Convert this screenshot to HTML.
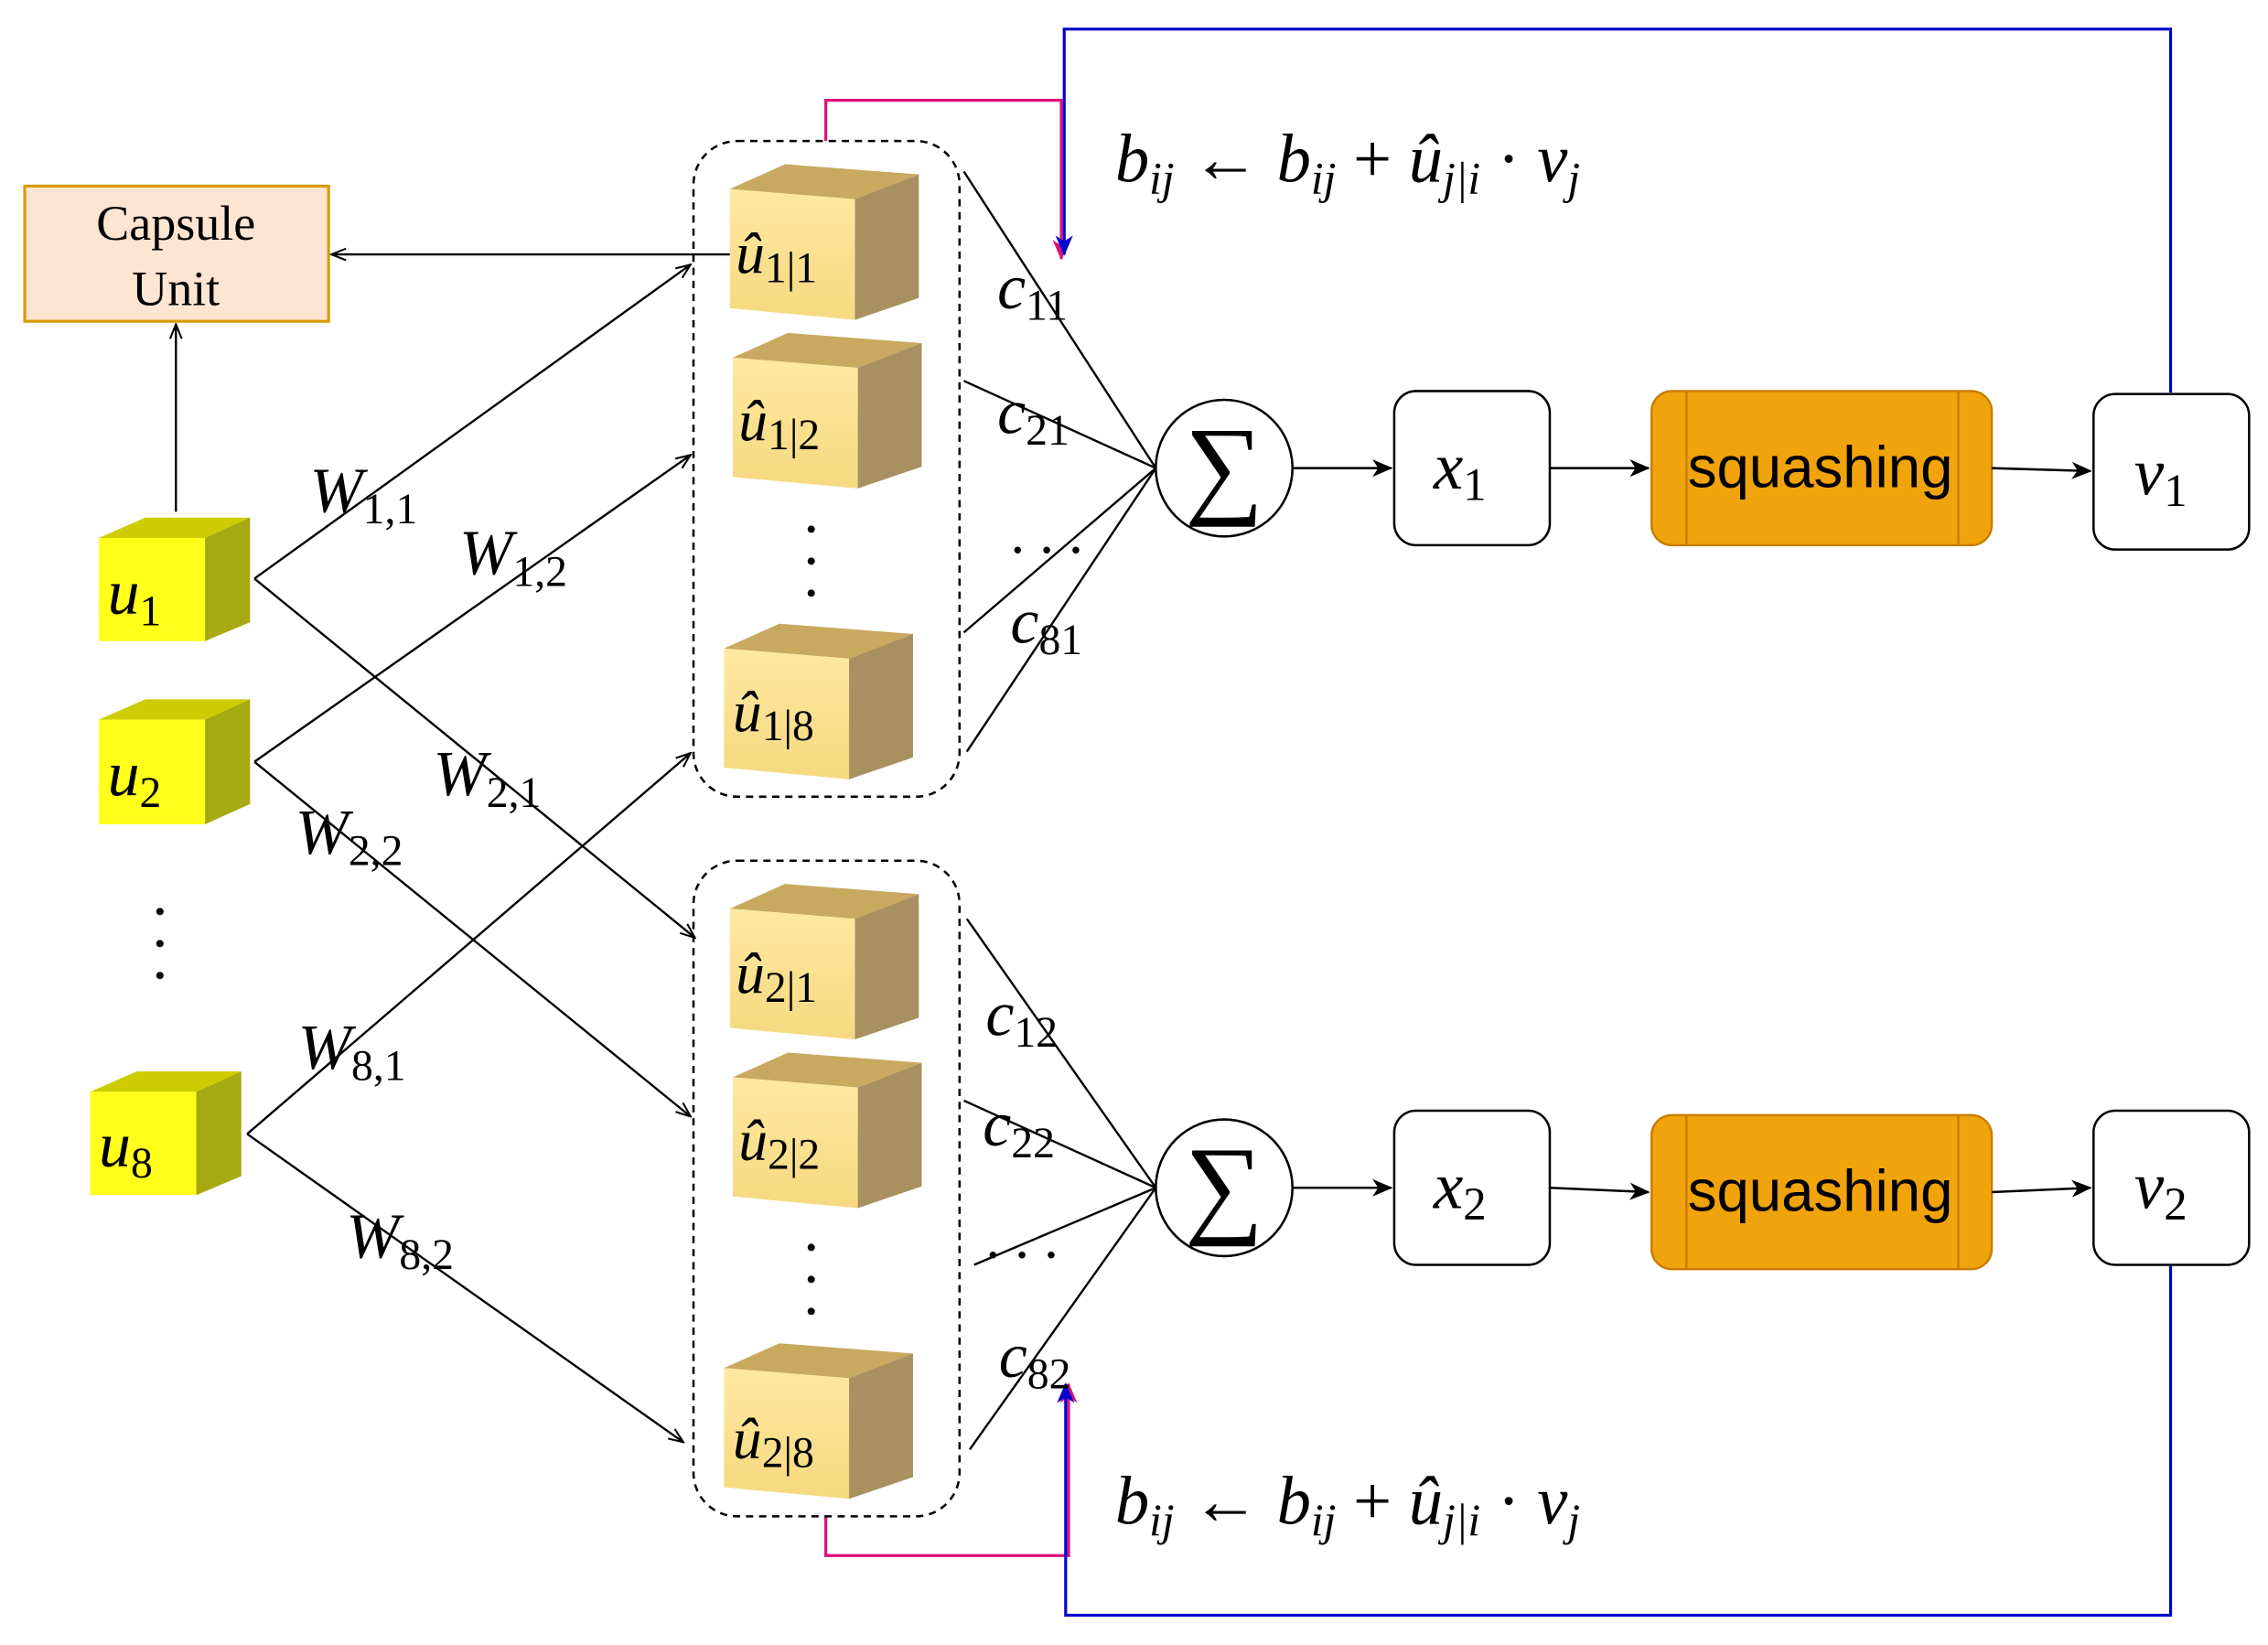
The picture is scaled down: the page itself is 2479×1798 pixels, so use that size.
<!DOCTYPE html>
<html><head><meta charset="utf-8"><style>html,body{margin:0;padding:0;background:#fff}svg{display:block}</style></head><body>
<svg width="2479" height="1798" viewBox="0 0 1560 1131.5" preserveAspectRatio="none" xmlns="http://www.w3.org/2000/svg" font-family="Liberation Serif, serif">
<defs>
<marker id="op" markerWidth="12" markerHeight="10" refX="11" refY="5" orient="auto" markerUnits="userSpaceOnUse"><path d="M1,1 L11,5 L1,9" fill="none" stroke="#000" stroke-width="1.3"/></marker>
<marker id="fa" markerWidth="14" markerHeight="12" refX="13" refY="6" orient="auto" markerUnits="userSpaceOnUse"><path d="M0,0 L14,6 L0,12 L4,6 Z" fill="#000"/></marker>
<marker id="bl" markerWidth="14" markerHeight="14" refX="13" refY="7" orient="auto" markerUnits="userSpaceOnUse"><path d="M0,1 L14,7 L0,13 L4,7 Z" fill="#00c"/></marker>
<marker id="pk" markerWidth="14" markerHeight="14" refX="13" refY="7" orient="auto" markerUnits="userSpaceOnUse"><path d="M0,1 L14,7 L0,13 L4,7 Z" fill="#e0107a"/></marker>
<linearGradient id="bf" x1="0" y1="0" x2="0" y2="1"><stop offset="0" stop-color="#fde9a0"/><stop offset="1" stop-color="#f6d980"/></linearGradient>
</defs>
<polyline points="568,97 568,69 730,69 730,178" fill="none" stroke="#e0107a" stroke-width="2" marker-end="url(#pk)"/>
<polyline points="1493,270 1493,20 732,20 732,175" fill="none" stroke="#00c" stroke-width="2" marker-end="url(#bl)"/>
<polyline points="568,1043 568,1070 735,1070 735,952" fill="none" stroke="#e0107a" stroke-width="2" marker-end="url(#pk)"/>
<polyline points="1493,870 1493,1111 733,1111 733,952" fill="none" stroke="#00c" stroke-width="2" marker-end="url(#bl)"/>
<rect x="17" y="128" width="209" height="93" fill="#fde5d2" stroke="#d79b00" stroke-width="2"/>
<text x="121" y="165" font-size="34" text-anchor="middle">Capsule</text>
<text x="121" y="210" font-size="34" text-anchor="middle">Unit</text>
<line x1="505" y1="175" x2="228" y2="175" stroke="#000" stroke-width="1.5" marker-end="url(#op)"/>
<line x1="121" y1="352" x2="121" y2="223" stroke="#000" stroke-width="1.5" marker-end="url(#op)"/>
<rect x="477" y="97" width="183" height="451" rx="30" fill="none" stroke="#000" stroke-width="1.6" stroke-dasharray="5,4"/>
<rect x="477" y="592" width="183" height="451" rx="30" fill="none" stroke="#000" stroke-width="1.6" stroke-dasharray="5,4"/>
<g stroke="#000" stroke-width="1.5" fill="none" marker-end="url(#op)">
<line x1="175" y1="398" x2="475" y2="182"/>
<line x1="175" y1="398" x2="478" y2="645"/>
<line x1="175" y1="524" x2="475" y2="313"/>
<line x1="175" y1="524" x2="475" y2="768"/>
<line x1="170" y1="780" x2="475" y2="518"/>
<line x1="170" y1="780" x2="470" y2="992"/>
</g>
<g>
<polygon points="68,370 100,356 172,356 141,370" fill="#cccc00"/><polygon points="141,370 172,356 172,428 141,441" fill="#a8a812"/><rect x="68" y="370" width="73" height="71" fill="#ffff1a"/>
<polygon points="68,495 100,481 172,481 141,495" fill="#cccc00"/><polygon points="141,495 172,481 172,553 141,567" fill="#a8a812"/><rect x="68" y="495" width="73" height="72" fill="#ffff1a"/>
<polygon points="62,751 94,737 166,737 135,751" fill="#cccc00"/><polygon points="135,751 166,737 166,809 135,822" fill="#a8a812"/><rect x="62" y="751" width="73" height="71" fill="#ffff1a"/>
</g>
<g font-style="italic" font-size="44">
<text x="74" y="422">u<tspan font-style="normal" font-size="30" dy="8">1</tspan></text>
<text x="74" y="547">u<tspan font-style="normal" font-size="30" dy="8">2</tspan></text>
<text x="68" y="802">u<tspan font-style="normal" font-size="30" dy="8">8</tspan></text>
</g>
<g fill="#000"><circle cx="110" cy="627" r="2.5"/><circle cx="110" cy="649" r="2.5"/><circle cx="110" cy="671" r="2.5"/>
<circle cx="558" cy="364" r="2.5"/><circle cx="558" cy="386" r="2.5"/><circle cx="558" cy="408" r="2.5"/>
<circle cx="558" cy="858" r="2.5"/><circle cx="558" cy="880" r="2.5"/><circle cx="558" cy="902" r="2.5"/></g>
<g id="bc">
<polygon points="502,130 540,113 632,120 588,137" fill="#c9a860"/><polygon points="588,137 632,120 632,205 588,220" fill="#a89060"/><polygon points="502,130 588,137 588,220 502,212" fill="url(#bf)"/>
</g>
<use href="#bc" transform="translate(2,116)"/>
<use href="#bc" transform="translate(-4,316)"/>
<use href="#bc" transform="translate(0,495)"/>
<use href="#bc" transform="translate(2,611)"/>
<use href="#bc" transform="translate(-4,811)"/>
<g font-style="italic" font-size="40">
<text x="506" y="188">û<tspan font-style="normal" font-size="30" dy="6">1|1</tspan></text>
<text x="508" y="303">û<tspan font-style="normal" font-size="30" dy="6">1|2</tspan></text>
<text x="504" y="503">û<tspan font-style="normal" font-size="30" dy="6">1|8</tspan></text>
<text x="506" y="683">û<tspan font-style="normal" font-size="30" dy="6">2|1</tspan></text>
<text x="508" y="798">û<tspan font-style="normal" font-size="30" dy="6">2|2</tspan></text>
<text x="504" y="1003">û<tspan font-style="normal" font-size="30" dy="6">2|8</tspan></text>
</g>
<g font-style="italic" font-size="44">
<text x="213" y="352">W<tspan font-style="normal" font-size="30" dy="8">1,1</tspan></text>
<text x="316" y="395">W<tspan font-style="normal" font-size="30" dy="8">1,2</tspan></text>
<text x="298" y="547">W<tspan font-style="normal" font-size="30" dy="8">2,1</tspan></text>
<text x="203" y="587">W<tspan font-style="normal" font-size="30" dy="8">2,2</tspan></text>
<text x="205" y="735">W<tspan font-style="normal" font-size="30" dy="8">8,1</tspan></text>
<text x="238" y="865">W<tspan font-style="normal" font-size="30" dy="8">8,2</tspan></text>
</g>
<g stroke="#000" stroke-width="1.5" fill="none">
<line x1="663" y1="118" x2="795" y2="322"/><line x1="663" y1="262" x2="795" y2="322"/><line x1="663" y1="435" x2="795" y2="322"/><line x1="665" y1="517" x2="795" y2="322"/>
<line x1="665" y1="632" x2="795" y2="817"/><line x1="663" y1="757" x2="795" y2="817"/><line x1="670" y1="870" x2="795" y2="817"/><line x1="667" y1="997" x2="795" y2="817"/>
</g>
<g font-style="italic" font-size="44">
<text x="686" y="212">c<tspan font-style="normal" font-size="30" dy="8">11</tspan></text>
<text x="686" y="298">c<tspan font-style="normal" font-size="30" dy="8">21</tspan></text>
<text x="695" y="442">c<tspan font-style="normal" font-size="30" dy="8">81</tspan></text>
<text x="678" y="712">c<tspan font-style="normal" font-size="30" dy="8">12</tspan></text>
<text x="676" y="788">c<tspan font-style="normal" font-size="30" dy="8">22</tspan></text>
<text x="687" y="947">c<tspan font-style="normal" font-size="30" dy="8">82</tspan></text>
</g>
<text x="695" y="380" font-size="40">. . .</text>
<text x="678" y="865" font-size="40">. . .</text>
<circle cx="842" cy="322" r="47" fill="#fff" stroke="#000" stroke-width="1.6"/>
<circle cx="842" cy="817" r="47" fill="#fff" stroke="#000" stroke-width="1.6"/>
<text x="842" y="346" font-size="76" text-anchor="middle">∑</text>
<text x="842" y="841" font-size="76" text-anchor="middle">∑</text>
<g stroke="#000" stroke-width="1.6" fill="#fff">
<rect x="959" y="269" width="107" height="106" rx="15"/><rect x="1440" y="271" width="107" height="107" rx="15"/>
<rect x="959" y="764" width="107" height="106" rx="15"/><rect x="1440" y="764" width="107" height="106" rx="15"/>
</g>
<g fill="#f0a30a" stroke="#c77c00" stroke-width="1.5">
<rect x="1136" y="269" width="234" height="106" rx="14"/><line x1="1160" y1="269" x2="1160" y2="375"/><line x1="1347" y1="269" x2="1347" y2="375"/>
<rect x="1136" y="767" width="234" height="106" rx="14"/><line x1="1160" y1="767" x2="1160" y2="873"/><line x1="1347" y1="767" x2="1347" y2="873"/>
</g>
<g font-family="Liberation Sans, sans-serif" font-size="40" text-anchor="middle">
<text x="1252" y="335">squashing</text><text x="1252" y="833">squashing</text>
</g>
<g font-style="italic" font-size="46">
<text x="986" y="336">x<tspan font-style="normal" font-size="32" dy="8">1</tspan></text>
<text x="1468" y="340">v<tspan font-style="normal" font-size="32" dy="8">1</tspan></text>
<text x="986" y="831">x<tspan font-style="normal" font-size="32" dy="8">2</tspan></text>
<text x="1468" y="831">v<tspan font-style="normal" font-size="32" dy="8">2</tspan></text>
</g>
<g stroke="#000" stroke-width="1.6" marker-end="url(#fa)">
<line x1="889" y1="322" x2="957" y2="322"/><line x1="1066" y1="322" x2="1134" y2="322"/><line x1="1370" y1="322" x2="1438" y2="324"/>
<line x1="889" y1="817" x2="957" y2="817"/><line x1="1066" y1="817" x2="1134" y2="820"/><line x1="1370" y1="820" x2="1438" y2="817"/>
</g>
<g font-size="47" font-style="italic">
<text x="767" y="125">b<tspan font-size="31" dy="8">ij</tspan><tspan font-style="normal" dy="-8"> ← </tspan>b<tspan font-size="31" dy="8">ij</tspan><tspan font-style="normal" dy="-8"> + </tspan>û<tspan font-size="31" dy="8">j|i</tspan><tspan font-style="normal" dy="-8"> · </tspan>v<tspan font-size="31" dy="8">j</tspan></text>
<text x="767" y="1048">b<tspan font-size="31" dy="8">ij</tspan><tspan font-style="normal" dy="-8"> ← </tspan>b<tspan font-size="31" dy="8">ij</tspan><tspan font-style="normal" dy="-8"> + </tspan>û<tspan font-size="31" dy="8">j|i</tspan><tspan font-style="normal" dy="-8"> · </tspan>v<tspan font-size="31" dy="8">j</tspan></text>
</g>
</svg>
</body></html>
